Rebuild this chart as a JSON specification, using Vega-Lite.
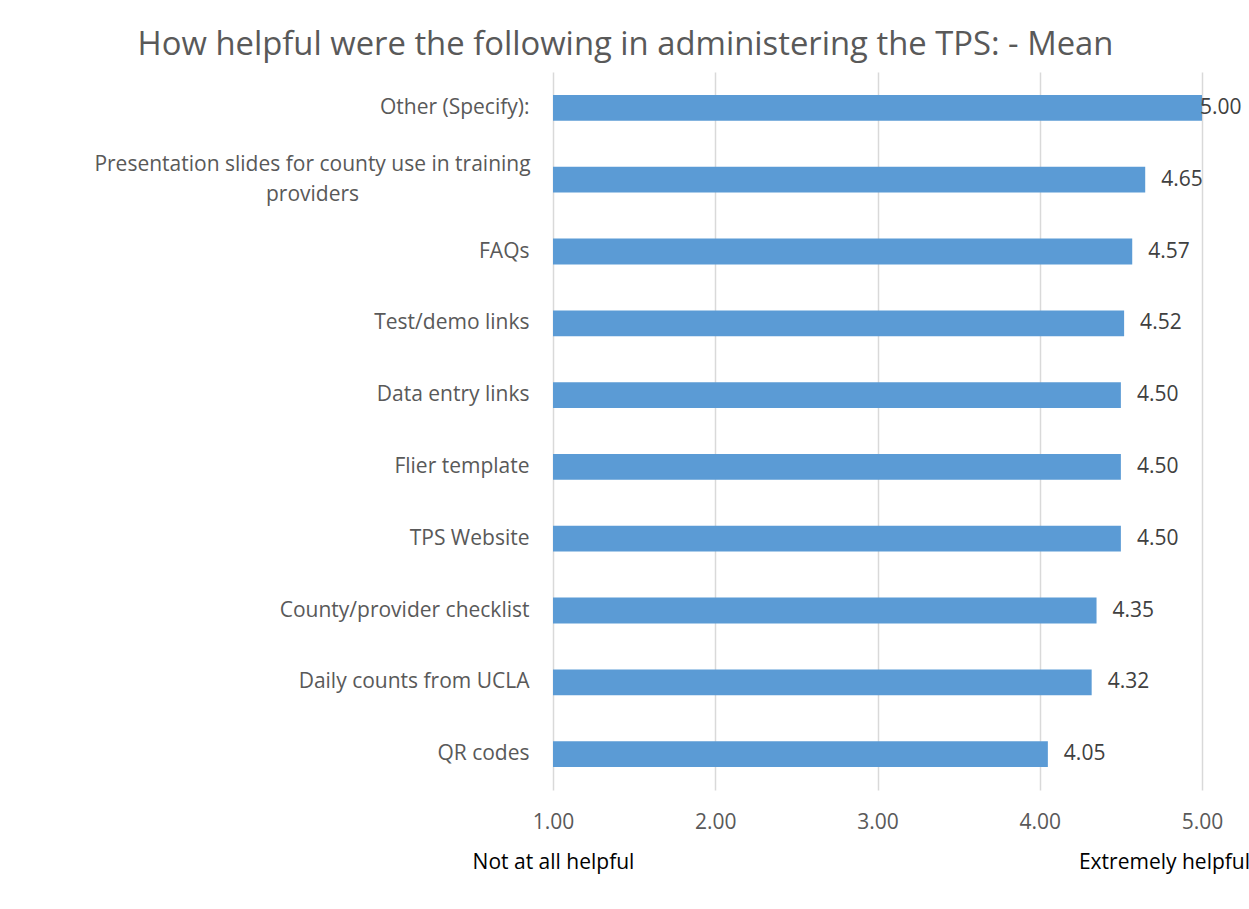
{
  "$schema": "https://vega.github.io/schema/vega-lite/v6.json",
  "autosize": "none",
  "width": 649,
  "height": 718,
  "padding": {"left": 553, "top": 72, "right": 47, "bottom": 119},
  "background": "white",
  "config": {
    "font": "Open Sans",
    "view": {"stroke": null}
  },
  "title": {
    "text": "How helpful were the following in administering the TPS: - Mean",
    "fontSize": 32.8,
    "font": "Open Sans",
    "fontWeight": "normal",
    "color": "#595959",
    "anchor": "middle",
    "frame": "group",
    "dx": -252,
    "offset": 10
  },
  "data": {
    "values": [
      {"item": "Other (Specify):", "mean": 5.00},
      {"item": "Presentation slides for county use in training providers", "mean": 4.65},
      {"item": "FAQs", "mean": 4.57},
      {"item": "Test/demo links", "mean": 4.52},
      {"item": "Data entry links", "mean": 4.50},
      {"item": "Flier template", "mean": 4.50},
      {"item": "TPS Website", "mean": 4.50},
      {"item": "County/provider checklist", "mean": 4.35},
      {"item": "Daily counts from UCLA", "mean": 4.32},
      {"item": "QR codes", "mean": 4.05}
    ]
  },
  "encoding": {
    "y": {
      "field": "item",
      "type": "nominal",
      "sort": null,
      "title": null,
      "scale": {"paddingInner": 0.64, "paddingOuter": 0.32},
      "axis": {
        "ticks": false,
        "domain": false,
        "labelFontSize": 21,
        "labelColor": "#595959",
        "labelPadding": {"condition": {"test": "indexof(datum.value, 'Presentation') == 0", "value": 241}, "value": 24},
        "labelAlign": {"condition": {"test": "indexof(datum.value, 'Presentation') == 0", "value": "center"}, "value": "right"},
        "labelOffset": {"condition": {"test": "indexof(datum.value, 'Presentation') == 0", "value": -15}, "value": 0},
        "labelLineHeight": 30,
        "labelLimit": 600,
        "labelExpr": "indexof(datum.value, 'Presentation') == 0 ? ['Presentation slides for county use in training', 'providers'] : datum.value"
      }
    }
  },
  "layer": [
    {
      "mark": {"type": "bar", "color": "#5b9bd5"},
      "encoding": {
        "x": {
          "field": "mean",
          "type": "quantitative",
          "scale": {"domain": [1, 5], "zero": false, "nice": false},
          "axis": {
            "title": null,
            "orient": "bottom",
            "values": [1, 2, 3, 4, 5],
            "format": ".2f",
            "grid": true,
            "gridColor": "#d9d9d9",
            "gridWidth": 1.5,
            "ticks": false,
            "domain": false,
            "labelFontSize": 21,
            "labelColor": "#595959",
            "labelPadding": 21,
            "labelFlush": false
          }
        },
        "x2": {"datum": 1}
      }
    },
    {
      "transform": [{"filter": "datum.mean < 5"}],
      "mark": {"type": "text", "align": "left", "baseline": "middle", "dx": 16, "fontSize": 21, "color": "#404040"},
      "encoding": {
        "x": {
          "field": "mean",
          "type": "quantitative",
          "axis": {
            "title": null,
            "orient": "bottom",
            "values": [1, 5],
            "grid": false,
            "ticks": false,
            "domain": false,
            "labelFontSize": 21,
            "labelColor": "#000000",
            "labelPadding": 61,
            "labelFlush": false,
            "labelBound": false,
            "labelOverlap": false,
            "labelOffset": {"condition": {"test": "datum.value == 5", "value": -38}, "value": 0},
            "labelExpr": "datum.value == 1 ? 'Not at all helpful' : 'Extremely helpful'"
          }
        },
        "text": {"field": "mean", "type": "quantitative", "format": ".2f"}
      }
    },
    {
      "transform": [{"filter": "datum.mean >= 5"}],
      "mark": {"type": "text", "align": "left", "baseline": "middle", "dx": -2, "fontSize": 21, "color": "#404040"},
      "encoding": {
        "x": {"field": "mean", "type": "quantitative", "axis": null},
        "text": {"field": "mean", "type": "quantitative", "format": ".2f"}
      }
    }
  ],
  "resolve": {"axis": {"x": "independent"}}
}
